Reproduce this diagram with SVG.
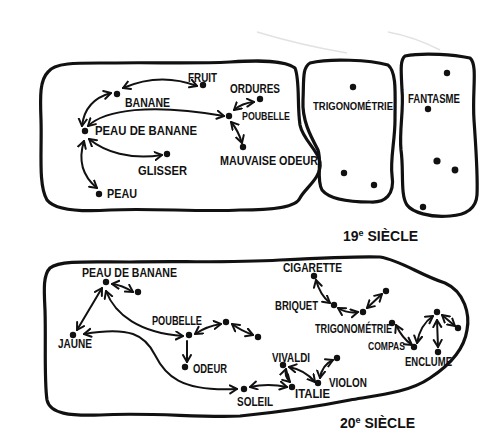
<svg xmlns="http://www.w3.org/2000/svg" width="498" height="435" viewBox="0 0 498 435">
<style>
.blob{fill:none;stroke:#111;stroke-width:3.2;stroke-linejoin:round}
.faint{fill:none;stroke:#e2e2e2;stroke-width:1.5}
.c{fill:none;stroke:#111;stroke-width:2;stroke-linecap:round}
.d{marker-start:url(#ah);marker-end:url(#ah)}
.s{marker-end:url(#ah)}
.dot{fill:#111}
text{font-family:"Liberation Sans",Arial,sans-serif;font-weight:bold;font-size:12px;fill:#111}
.sm{font-size:11px}
.big{font-size:14px}
</style>
<defs>
<marker id="ah" markerUnits="userSpaceOnUse" markerWidth="12" markerHeight="12" refX="8" refY="5" orient="auto-start-reverse">
<path d="M1,1 L8,5 L1,9" fill="none" stroke="#111" stroke-width="2" stroke-linecap="round" stroke-linejoin="round"/>
</marker>
</defs>
<rect width="498" height="435" fill="#fff"/>
<path class="faint" d="M257,32 Q300,45 347,53"/>
<path class="faint" d="M388,32 Q415,37 440,50"/>

<g id="blobs">
<path id="blob-19-main" class="blob" d="M48,72 C55,62 80,63 110,63 C150,62 190,64 230,62 C260,60 285,60 295,68 C300,80 297,105 300,125 C303,140 318,150 320,162 C322,178 305,188 300,198 C296,208 270,210 240,210 C200,212 150,208 110,210 C80,212 55,210 47,200 C38,185 42,150 41,120 C40,95 40,80 48,72 Z"/>
<path id="blob-19-trigo" class="blob" d="M310,63 C330,58 370,60 388,65 C397,72 395,95 395,120 C395,140 390,160 392,175 C395,195 385,203 370,202 C350,202 330,200 322,190 C316,180 322,160 318,150 C310,135 302,120 303,100 C304,80 302,68 310,63 Z"/>
<path id="blob-19-fantasme" class="blob" d="M405,56 C425,52 455,55 470,58 C478,65 472,90 474,120 C476,150 478,175 477,195 C476,210 465,215 450,216 C430,218 412,212 407,205 C400,195 404,170 401,150 C399,130 404,110 402,90 C401,70 400,60 405,56 Z"/>
<path id="blob-20" class="blob" d="M50,268 C60,260 90,262 130,262 C180,261 230,263 280,260 C320,258 360,256 380,257 C400,260 420,275 445,283 C465,292 470,315 467,330 C464,350 450,365 430,378 C410,392 380,395 350,400 C310,408 280,412 240,416 C200,418 150,412 100,415 C70,416 50,414 47,400 C44,380 46,340 45,310 C44,290 43,275 50,268 Z"/>
</g>

<g id="connectors">
<path class="c d" d="M123,88 Q160,72 197,86"/>
<path class="c d" d="M111,93 Q85,100 82,126"/>
<path class="c d" d="M88,126 C105,110 150,103 224,116"/>
<path class="c d" d="M89,139 C105,152 130,160 162,155"/>
<path class="c d" d="M84,141 Q75,170 97,188"/>
<path class="c d" d="M234,110 Q242,103 254,102"/>
<path class="c d" d="M231,122 Q238,130 242,143"/>

<path class="c d" d="M112,284 Q122,285 133,292"/>
<path class="c d" d="M102,288 L77,330"/>
<path class="c d" d="M106,291 C115,315 140,333 183,336"/>
<path class="c d" d="M195,334 Q207,326 221,324"/>
<path class="c d" d="M232,324 Q240,330 253,335"/>
<path class="c s" d="M187,341 L187,362"/>
<path class="c d" d="M84,334 C130,326 145,335 155,355 C165,375 180,392 237,389"/>
<path class="c d" d="M250,387 Q268,383 287,387"/>
<path class="c d" d="M290,382 Q284,376 286,369"/>
<path class="c d" d="M289,367 Q305,370 315,382"/>
<path class="c d" d="M320,378 Q322,365 333,360"/>
<path class="c d" d="M316,280 Q320,295 330,303"/>
<path class="c d" d="M338,308 Q348,314 358,312"/>
<path class="c d" d="M367,308 L382,294"/>
<path class="c d" d="M396,325 Q402,338 412,345"/>
<path class="c d" d="M417,343 Q420,325 433,316"/>
<path class="c d" d="M437,320 L438,347"/>
<path class="c d" d="M442,315 L455,326"/>
</g>

<g id="n19-fruit"><circle class="dot" cx="203" cy="85" r="3.2"/><text x="188" y="82" textLength="29" lengthAdjust="spacingAndGlyphs">FRUIT</text></g>
<g id="n19-banane"><circle class="dot" cx="117" cy="94" r="3.2"/><text x="125" y="107" textLength="45" lengthAdjust="spacingAndGlyphs">BANANE</text></g>
<g id="n19-peau-de-banane"><circle class="dot" cx="85" cy="131" r="3.2"/><text x="95" y="135" textLength="102" lengthAdjust="spacingAndGlyphs">PEAU DE BANANE</text></g>
<g id="n19-glisser"><circle class="dot" cx="167" cy="154" r="3.2"/><text x="138" y="175" textLength="49" lengthAdjust="spacingAndGlyphs">GLISSER</text></g>
<g id="n19-peau"><circle class="dot" cx="99" cy="194" r="3.2"/><text x="107" y="198" textLength="30" lengthAdjust="spacingAndGlyphs">PEAU</text></g>
<g id="n19-ordures"><circle class="dot" cx="260" cy="99" r="3.2"/><text x="230" y="93" textLength="50" lengthAdjust="spacingAndGlyphs">ORDURES</text></g>
<g id="n19-poubelle"><circle class="dot" cx="229" cy="116" r="3.2"/><text class="sm" x="242" y="120" textLength="48" lengthAdjust="spacingAndGlyphs">POUBELLE</text></g>
<g id="n19-mauvaise-odeur"><circle class="dot" cx="243" cy="147" r="3.2"/><text x="220" y="165" textLength="98" lengthAdjust="spacingAndGlyphs">MAUVAISE ODEUR</text></g>
<g id="n19-trigonometrie"><circle class="dot" cx="353" cy="87" r="3.2"/><circle class="dot" cx="344" cy="173" r="3.2"/><circle class="dot" cx="374" cy="185" r="3.2"/><text class="sm" x="313" y="110" textLength="80" lengthAdjust="spacingAndGlyphs">TRIGONOMÉTRIE</text></g>
<g id="n19-fantasme"><circle class="dot" cx="447" cy="73" r="3.2"/><circle class="dot" cx="428" cy="109" r="3.2"/><circle class="dot" cx="437" cy="161" r="3.6"/><circle class="dot" cx="455" cy="170" r="3.4"/><circle class="dot" cx="423" cy="207" r="3.2"/><text x="408" y="103" textLength="52" lengthAdjust="spacingAndGlyphs">FANTASME</text></g>
<g id="label-19"><text class="big" x="343" y="241">19<tspan font-size="9" dy="-5">e</tspan><tspan dy="5"> SIÈCLE</tspan></text></g>

<g id="n20-peau-de-banane"><circle class="dot" cx="106" cy="282" r="3.2"/><circle class="dot" cx="138" cy="292" r="3.2"/><text x="82" y="277" textLength="95" lengthAdjust="spacingAndGlyphs">PEAU DE BANANE</text></g>
<g id="n20-jaune"><circle class="dot" cx="73" cy="335" r="3.2"/><text x="58" y="348" textLength="34" lengthAdjust="spacingAndGlyphs">JAUNE</text></g>
<g id="n20-poubelle"><circle class="dot" cx="189" cy="335" r="3.2"/><circle class="dot" cx="226" cy="322" r="3.2"/><circle class="dot" cx="258" cy="337" r="3.2"/><text x="152" y="325" textLength="50" lengthAdjust="spacingAndGlyphs">POUBELLE</text></g>
<g id="n20-odeur"><circle class="dot" cx="185" cy="367" r="3.2"/><text x="193" y="373" textLength="34" lengthAdjust="spacingAndGlyphs">ODEUR</text></g>
<g id="n20-soleil"><circle class="dot" cx="244" cy="389" r="3.2"/><text x="237" y="406" textLength="36" lengthAdjust="spacingAndGlyphs">SOLEIL</text></g>
<g id="n20-cigarette"><circle class="dot" cx="314" cy="276" r="3.2"/><text x="283" y="272" textLength="59" lengthAdjust="spacingAndGlyphs">CIGARETTE</text></g>
<g id="n20-briquet"><circle class="dot" cx="334" cy="305" r="3.2"/><circle class="dot" cx="363" cy="312" r="3.2"/><circle class="dot" cx="386" cy="291" r="3.2"/><text x="275" y="310" textLength="43" lengthAdjust="spacingAndGlyphs">BRIQUET</text></g>
<g id="n20-trigonometrie"><circle class="dot" cx="392" cy="323" r="3.2"/><text x="315" y="333" textLength="77" lengthAdjust="spacingAndGlyphs">TRIGONOMÉTRIE</text></g>
<g id="n20-compas"><circle class="dot" cx="414" cy="347" r="3.2"/><text class="sm" x="368" y="350" textLength="37" lengthAdjust="spacingAndGlyphs">COMPAS</text></g>
<g id="n20-enclume"><circle class="dot" cx="437" cy="312" r="3.2"/><circle class="dot" cx="458" cy="328" r="3.2"/><circle class="dot" cx="438" cy="352" r="3.2"/><text x="405" y="366" textLength="47" lengthAdjust="spacingAndGlyphs">ENCLUME</text></g>
<g id="n20-vivaldi"><circle class="dot" cx="283" cy="365" r="3.2"/><text x="272" y="362" textLength="38" lengthAdjust="spacingAndGlyphs">VIVALDI</text></g>
<g id="n20-violon"><circle class="dot" cx="318" cy="383" r="3.2"/><circle class="dot" cx="337" cy="358" r="3.2"/><text x="329" y="387" textLength="38" lengthAdjust="spacingAndGlyphs">VIOLON</text></g>
<g id="n20-italie"><circle class="dot" cx="292" cy="387" r="3.2"/><text x="295" y="398" textLength="35" lengthAdjust="spacingAndGlyphs">ITALIE</text></g>
<g id="label-20"><text class="big" x="340" y="428">20<tspan font-size="9" dy="-5">e</tspan><tspan dy="5"> SIÈCLE</tspan></text></g>
</svg>
